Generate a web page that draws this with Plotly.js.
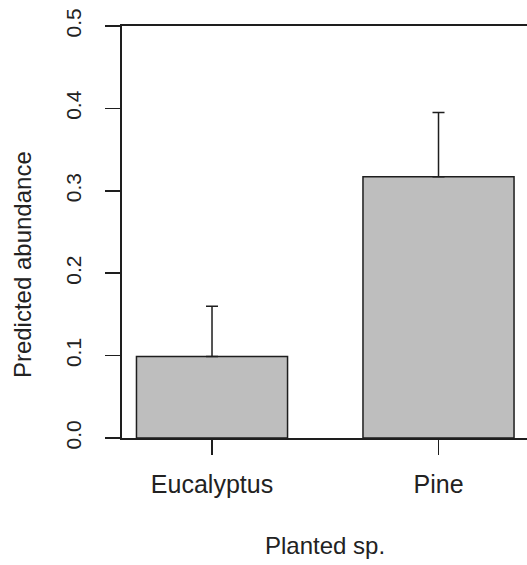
<!DOCTYPE html>
<html>
<head>
<meta charset="utf-8">
<script src="https://cdn.plot.ly/plotly-3.0.1.min.js"></script>
<style>
  html, body { margin: 0; padding: 0; background: #ffffff; }
  #chart { width: 527px; height: 565px; }
</style>
</head>
<body>
<div id="chart"></div>
<script>
// Predicted abundance by planted species, with upper error bars
const species = ["Eucalyptus", "Pine"];
const predicted = [0.099, 0.317];
const upperError = [0.061, 0.078];
const yTicks = [0, 0.1, 0.2, 0.3, 0.4, 0.5];
const yTickText = ["0.0", "0.1", "0.2", "0.3", "0.4", "0.5"];
const xTitle = "Planted sp.";
const yTitle = "Predicted abundance";

const ink = "#1e1e1e";
const fontFamily = "Liberation Sans, Arial, sans-serif";
const textFont = { family: fontFamily, size: 24, color: "#222222" };

const trace = {
  type: "bar",
  x: species,
  y: predicted,
  width: 0.667,
  marker: { color: "#bebebe", line: { color: ink, width: 1.5 } },
  error_y: {
    type: "data",
    symmetric: false,
    array: upperError,
    arrayminus: predicted.map(() => 0),
    color: ink,
    thickness: 1.5,
    width: 6
  },
  hoverinfo: "skip"
};

const layout = {
  width: 527,
  height: 565,
  margin: { l: 122, r: 0, t: 26, b: 127 },
  paper_bgcolor: "#ffffff",
  plot_bgcolor: "#ffffff",
  showlegend: false,
  xaxis: {
    type: "category",
    range: [-0.3974, 1.3907],
    showline: true,
    mirror: true,
    linecolor: ink,
    linewidth: 1.6,
    showgrid: false,
    zeroline: false,
    ticks: "outside",
    ticklen: 15,
    tickwidth: 1.5,
    tickcolor: ink,
    ticklabelstandoff: 8,
    tickfont: { family: fontFamily, size: 25, color: "#222222" }
  },
  yaxis: {
    range: [0, 0.5],
    tickvals: yTicks,
    ticktext: yTickText,
    tickangle: -90,
    showline: true,
    linecolor: ink,
    linewidth: 1.6,
    showgrid: false,
    zeroline: false,
    ticks: "outside",
    ticklen: 15,
    tickwidth: 1.5,
    tickcolor: ink,
    ticklabelstandoff: 16,
    tickfont: { family: fontFamily, size: 21, color: "#222222" }
  },
  annotations: [
    {
      text: xTitle, xref: "paper", yref: "paper",
      x: 0.5, y: -0.26, xanchor: "center", yanchor: "middle",
      showarrow: false, font: textFont
    },
    {
      text: yTitle, xref: "paper", yref: "paper",
      x: -0.247, y: 0.422, xanchor: "center", yanchor: "middle",
      textangle: -90, showarrow: false, font: textFont
    }
  ]
};

Plotly.newPlot("chart", [trace], layout, { staticPlot: true, displayModeBar: false });
</script>
</body>
</html>
